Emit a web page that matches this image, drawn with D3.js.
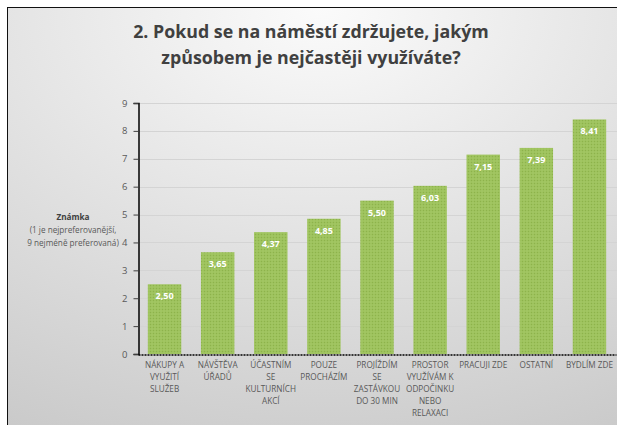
<!DOCTYPE html>
<html>
<head>
<meta charset="utf-8">
<script src="https://cdn.jsdelivr.net/npm/d3@7"></script>
<style>
  html, body { margin: 0; padding: 0; background: #fff; }
  svg { display: block; font-family: "Open Sans", Lato, sans-serif; }
</style>
</head>
<body>
<svg id="chart" width="617" height="425"></svg>
<script>
// chart data
const categories = [
  "NÁKUPY A VYUŽITÍ SLUŽEB",
  "NÁVŠTĚVA ÚŘADŮ",
  "ÚČASTNÍM SE KULTURNÍCH AKCÍ",
  "POUZE PROCHÁZÍM",
  "PROJÍŽDÍM SE ZASTÁVKOU DO 30 MIN",
  "PROSTOR VYUŽÍVÁM K ODPOČINKU NEBO RELAXACI",
  "PRACUJI ZDE",
  "OSTATNÍ",
  "BYDLÍM ZDE"
];
// how the category labels break in the original
const categoryLines = [
  ["NÁKUPY A", "VYUŽITÍ", "SLUŽEB"],
  ["NÁVŠTĚVA", "ÚŘADŮ"],
  ["ÚČASTNÍM", "SE", "KULTURNÍCH", "AKCÍ"],
  ["POUZE", "PROCHÁZÍM"],
  ["PROJÍŽDÍM", "SE", "ZASTÁVKOU", "DO 30 MIN"],
  ["PROSTOR", "VYUŽÍVÁM K", "ODPOČINKU", "NEBO", "RELAXACI"],
  ["PRACUJI ZDE"],
  ["OSTATNÍ"],
  ["BYDLÍM ZDE"]
];
const values = [2.50, 3.65, 4.37, 4.85, 5.50, 6.03, 7.15, 7.39, 8.41];
const yTicks = [0, 1, 2, 3, 4, 5, 6, 7, 8, 9];
const titleLines = ["2. Pokud se na náměstí zdržujete, jakým", "způsobem je nejčastěji využíváte?"];
const yTitle = ["Známka", "(1 je nejpreferovanější,", "9 nejméně preferovaná)"];

const width = 617, height = 425;
const margin = { left: 138, top: 103, right: 2, bottom: 71 };

const svg = d3.select("#chart");
const defs = svg.append("defs");

// background gradient
const bg = defs.append("radialGradient").attr("id", "bg")
  .attr("cx", "50%").attr("cy", "0%").attr("r", "110%")
  .attr("fx", "50%").attr("fy", "0%");
bg.append("stop").attr("offset", "0%").attr("stop-color", "#fbfbfb");
bg.append("stop").attr("offset", "100%").attr("stop-color", "#c9c9c9");

// bar texture
const pat = defs.append("pattern").attr("id", "barFill")
  .attr("width", 3).attr("height", 3).attr("patternUnits", "userSpaceOnUse");
pat.append("rect").attr("width", 3).attr("height", 3).attr("fill", "#9dc25c");
pat.append("rect").attr("width", 1).attr("height", 1).attr("fill", "#8db24c");
pat.append("rect").attr("x", 1.5).attr("y", 1.5).attr("width", 1).attr("height", 1).attr("fill", "#acce72");

svg.append("rect")
  .attr("x", 7.5).attr("y", 7.5)
  .attr("width", width + 10).attr("height", height + 10)
  .attr("fill", "url(#bg)")
  .attr("stroke", "#111").attr("stroke-width", 1);

// title
svg.append("text")
  .attr("x", 311).attr("y", 38)
  .attr("text-anchor", "middle")
  .attr("font-size", 17.8).attr("font-weight", "bold")
  .attr("fill", "#404040")
  .selectAll("tspan").data(titleLines).join("tspan")
  .attr("x", 311).attr("dy", (d, i) => i ? 26 : 0)
  .text(d => d);

const x = d3.scaleBand()
  .domain(categories)
  .range([margin.left, width - margin.right + 1])
  .paddingInner(0.37).paddingOuter(0.185);

const y = d3.scaleLinear()
  .domain([0, 9])
  .range([height - margin.bottom, margin.top]);

// gridlines
svg.append("g")
  .selectAll("line").data(yTicks.slice(1)).join("line")
  .attr("x1", margin.left).attr("x2", width)
  .attr("y1", d => Math.round(y(d)) + 0.5).attr("y2", d => Math.round(y(d)) + 0.5)
  .attr("stroke", "#d4d4d4").attr("stroke-width", 1);

// bars
svg.append("g")
  .selectAll("rect").data(values).join("rect")
  .attr("x", (d, i) => x(categories[i]))
  .attr("y", d => y(d))
  .attr("width", x.bandwidth())
  .attr("height", d => y(0) - y(d))
  .attr("fill", "url(#barFill)");

// value labels
svg.append("g")
  .selectAll("text").data(values).join("text")
  .attr("x", (d, i) => x(categories[i]) + x.bandwidth() / 2)
  .attr("y", d => y(d) + 15)
  .attr("text-anchor", "middle")
  .attr("font-size", 9).attr("font-weight", "bold")
  .attr("fill", "#fff")
  .text(d => d3.format(".2f")(d).replace(".", ","));

// y axis
const yAxis = svg.append("g")
  .attr("transform", `translate(${margin.left + 0.5},0)`)
  .call(d3.axisLeft(y).tickValues(yTicks).tickSize(5).tickPadding(6).tickFormat(d => d));
yAxis.select(".domain").attr("stroke", "#000").attr("stroke-width", 1.5);
yAxis.selectAll(".tick line").attr("stroke", "#404040");
yAxis.selectAll(".tick text").attr("fill", "#595959").attr("font-size", 9.5)
  .attr("font-family", "\"Open Sans\", Lato, sans-serif");

// x axis
const xAxis = svg.append("g")
  .attr("transform", `translate(0,${y(0) + 0.5})`)
  .call(d3.axisBottom(x).tickSize(0).tickPadding(8));
xAxis.select(".domain").attr("stroke", "#000").attr("stroke-width", 1.5)
  .attr("stroke-dasharray", "2,1");
xAxis.selectAll(".tick text")
  .attr("fill", "#595959").attr("font-size", 8.2)
  .attr("font-family", "\"Open Sans\", Lato, sans-serif")
  .each(function (d) {
    const lines = categoryLines[categories.indexOf(d)];
    const t = d3.select(this).text(null);
    t.selectAll("tspan").data(lines).join("tspan")
      .attr("x", 0).attr("dy", (l, i) => i ? 12 : "0.71em")
      .text(l => l);
  });

// y axis title
svg.append("text")
  .attr("x", 73).attr("y", 220)
  .attr("text-anchor", "middle")
  .attr("font-size", 8.2).attr("fill", "#595959")
  .selectAll("tspan").data(yTitle).join("tspan")
  .attr("x", 73).attr("dy", (d, i) => i ? 13 : 0)
  .attr("font-weight", (d, i) => i ? "normal" : "bold")
  .attr("fill", (d, i) => i ? "#595959" : "#404040")
  .text(d => d);
</script>
</body>
</html>
